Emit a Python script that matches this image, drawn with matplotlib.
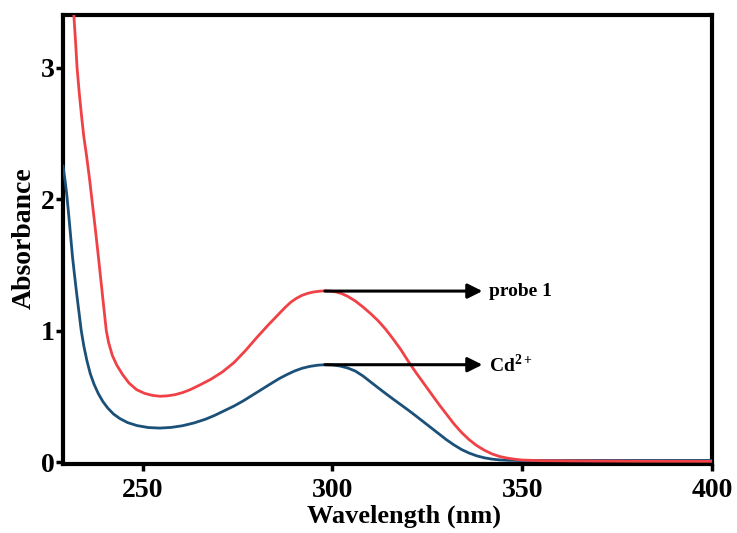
import matplotlib
matplotlib.use("Agg")
import matplotlib.pyplot as plt

# Absorption spectra: free probe and probe + Cd2+
wl_probe = [231.8, 232.3, 232.7, 233.3, 234.0, 234.5, 235.2, 236.0, 236.8, 237.6,
            238.4, 239.1, 239.8, 240.4, 241.0, 242.0, 243.2, 244.7, 246.4, 248.4,
            250.5, 252.5, 254.5, 256.5, 258.5, 260.5, 262.5, 265.0, 268.0, 271.0,
            274.0, 277.0, 280.0, 283.0, 286.0, 287.5, 289.0, 290.5, 292.0, 293.5,
            295.0, 296.5, 298.0, 299.5, 301.0, 302.5, 304.0, 306.0, 308.0, 310.0,
            312.0, 314.0, 316.0, 318.0, 320.0, 322.0, 324.0, 326.0, 328.0, 330.0,
            332.0, 334.0, 336.0, 338.0, 340.0, 342.0, 344.0, 346.0, 348.0, 350.0,
            355.0, 365.0, 380.0, 400.0]
abs_probe = [3.42, 3.20, 3.00, 2.80, 2.60, 2.47, 2.33, 2.15, 1.95, 1.75,
             1.54, 1.35, 1.16, 1.00, 0.91, 0.81, 0.735, 0.665, 0.60, 0.55,
             0.522, 0.507, 0.500, 0.503, 0.512, 0.528, 0.55, 0.585, 0.63, 0.685,
             0.755, 0.845, 0.945, 1.04, 1.13, 1.175, 1.215, 1.245, 1.268, 1.283,
             1.293, 1.299, 1.302, 1.300, 1.293, 1.280, 1.26, 1.225, 1.18, 1.13,
             1.075, 1.01, 0.935, 0.855, 0.765, 0.68, 0.60, 0.52, 0.44, 0.365,
             0.29, 0.225, 0.17, 0.125, 0.09, 0.062, 0.042, 0.030, 0.021, 0.015,
             0.010, 0.008, 0.006, 0.005]

wl_cd = [229.0, 229.5, 230.0, 230.5, 231.0, 231.5, 232.0, 232.6, 233.2, 233.8,
         234.5, 235.3, 236.2, 237.2, 238.3, 239.5, 240.8, 242.3, 244.0, 246.0,
         248.5, 251.5, 254.5, 257.5, 260.5, 263.5, 266.5, 269.0, 271.5, 274.0,
         276.5, 279.0, 281.5, 284.0, 286.0, 288.0, 290.0, 292.0, 294.0, 296.0,
         298.0, 300.0, 302.0, 304.0, 306.0, 308.0, 310.0, 312.0, 314.0, 316.0,
         318.0, 320.0, 322.0, 324.0, 326.0, 328.0, 330.0, 332.0, 334.0, 336.0,
         338.0, 340.0, 342.0, 344.0, 346.0, 350.0, 370.0, 400.0]
abs_cd = [2.25, 2.15, 2.03, 1.88, 1.72, 1.56, 1.43, 1.28, 1.14, 1.00,
          0.88, 0.77, 0.67, 0.59, 0.52, 0.46, 0.41, 0.365, 0.33, 0.30,
          0.277, 0.262, 0.258, 0.263, 0.276, 0.297, 0.325, 0.355, 0.39, 0.425,
          0.465, 0.51, 0.555, 0.60, 0.635, 0.665, 0.692, 0.713, 0.727, 0.736,
          0.740, 0.738, 0.730, 0.715, 0.692, 0.655, 0.610, 0.565, 0.521, 0.478,
          0.436, 0.394, 0.350, 0.305, 0.26, 0.215, 0.17, 0.13, 0.095, 0.068,
          0.047, 0.032, 0.022, 0.016, 0.013, 0.011, 0.012, 0.012]

x_ticks = [250, 300, 350, 400]
y_ticks = [0, 1, 2, 3]

# label arrows: start at band maximum, end before the text
peak_wl = 298.0
arrow_end = 339.5
labels = ["probe 1", "Cd$^{\\mathbf{2+}}$"]
label_levels = [1.30, 0.74]

serif = ["Liberation Serif", "DejaVu Serif"]
plt.rcParams["font.family"] = serif
plt.rcParams["font.weight"] = "bold"
plt.rcParams["mathtext.fontset"] = "custom"
plt.rcParams["mathtext.rm"] = "Liberation Serif:bold"
plt.rcParams["mathtext.bf"] = "Liberation Serif:bold"

fig = plt.figure(figsize=(7.37, 5.33), dpi=100)
ax = fig.add_axes([0.0855, 0.1295, 0.8806, 0.8424])

ax.plot(wl_cd, abs_cd, color="#1B5079", lw=2.0, zorder=3)
ax.plot(wl_probe, abs_probe, color="#F04246", lw=2.0, zorder=4)

for lab, lvl in zip(labels, label_levels):
    ax.annotate("", xy=(arrow_end, lvl), xytext=(peak_wl, lvl),
                arrowprops=dict(arrowstyle="-|>", lw=2.2, color="black",
                                mutation_scale=22, shrinkA=0, shrinkB=0),
                zorder=5)
    ax.text(arrow_end + 1.8, lvl, lab, fontsize=14, fontweight="bold",
            va="center", ha="left")

ax.set_xlim(229, 400)
ax.set_ylim(-0.015, 3.40)
ax.set_xticks(x_ticks)
ax.set_yticks(y_ticks)

for sp in ax.spines.values():
    sp.set_linewidth(3.0)
ax.tick_params(axis="both", direction="out", length=5, width=2.5,
               labelsize=20)
ax.tick_params(axis="x", pad=5)
ax.tick_params(axis="y", pad=1)
for t in ax.get_xticklabels() + ax.get_yticklabels():
    t.set_fontweight("bold")

ax.set_xlabel("Wavelength (nm)", fontsize=19, fontweight="bold")
ax.set_ylabel("Absorbance", fontsize=20, fontweight="bold")
ax.xaxis.set_label_coords(0.525, -0.09)
ax.yaxis.set_label_coords(-0.04, 0.503)

fig.savefig("out.png", dpi=100)
